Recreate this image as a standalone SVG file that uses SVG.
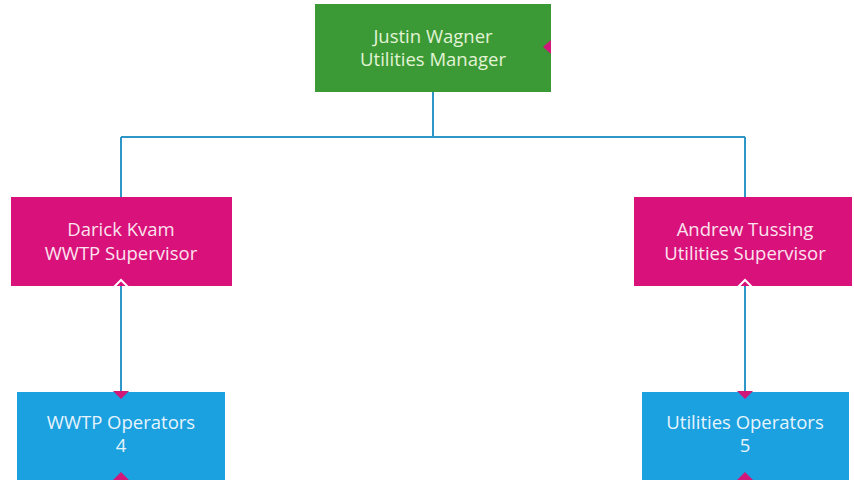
<svg xmlns="http://www.w3.org/2000/svg" width="854" height="480" viewBox="0 0 854 480">
<defs>
<style>
.t{font-family:"Open Sans","Noto Sans","Liberation Sans",sans-serif;font-size:18.5px;text-anchor:middle}
.g{fill:#3c9a36}.p{fill:#d9117a}.b{fill:#1ba0e0}
.tg{fill:#e2f3d6}.tp{fill:#fbe3ef}.tb{fill:#e6f4fc}
.c{stroke:#2e97c8;stroke-width:2;fill:none}
.pk{fill:#d0177a}
.wc{fill:none;stroke:#ffffff;stroke-width:2}
</style>
</defs>
<rect width="854" height="480" fill="#ffffff"/>
<g id="connectors">
<path class="c" d="M433 92 V137 M121 137 H745 M121 137 V197 M745 137 V197"/>
<path class="c" d="M121 286 V392"/>
<path class="c" d="M745 286 V392"/>
</g>
<g id="manager">
<rect class="g" x="315" y="4" width="236" height="88"/>
<polygon class="pk" points="551,40 543,47 551,54"/>
<text class="t tg" x="433" y="43">Justin Wagner</text>
<text class="t tg" x="433" y="66">Utilities Manager</text>
</g>
<g id="wwtp-supervisor">
<rect class="p" x="11" y="197" width="221" height="89"/>
<polyline class="wc" points="114,287 121,280 128,287"/>
<text class="t tp" x="121" y="236">Darick Kvam</text>
<text class="t tp" x="121" y="260">WWTP Supervisor</text>
</g>
<g id="utilities-supervisor">
<rect class="p" x="634" y="197" width="218" height="89"/>
<polyline class="wc" points="738,287 745,280 752,287"/>
<text class="t tp" x="745" y="236">Andrew Tussing</text>
<text class="t tp" x="745" y="260">Utilities Supervisor</text>
</g>
<g id="wwtp-operators">
<rect class="b" x="17" y="392" width="208" height="88"/>
<polygon class="pk" points="113,391 129,391 121,399"/>
<polygon class="pk" points="113,480 121,472 129,480"/>
<text class="t tb" x="121" y="429">WWTP Operators</text>
<text class="t tb" x="121" y="452">4</text>
</g>
<g id="utilities-operators">
<rect class="b" x="642" y="392" width="207" height="88"/>
<polygon class="pk" points="737,391 753,391 745,399"/>
<polygon class="pk" points="737,480 745,472 753,480"/>
<text class="t tb" x="745" y="429">Utilities Operators</text>
<text class="t tb" x="745" y="452">5</text>
</g>
</svg>
